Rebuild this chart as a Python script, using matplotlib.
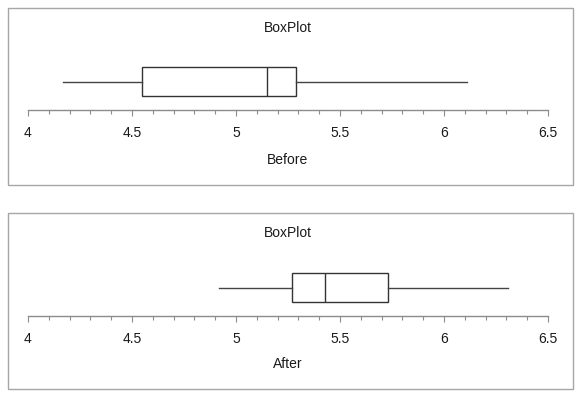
import numpy as np
import matplotlib.pyplot as plt
from matplotlib.patches import Rectangle
from matplotlib.ticker import MultipleLocator

plt.rcParams['font.family'] = ['Liberation Sans', 'DejaVu Sans']

# Five-number summaries
labels = ['Before', 'After']
whislo = [4.17, 4.92]
q1 = [4.55, 5.27]
med = [5.15, 5.43]
q3 = [5.29, 5.73]
whishi = [6.11, 6.31]
title = 'BoxPlot'

W, H = 580, 399
fig = plt.figure(figsize=(W / 100, H / 100), dpi=100)

def fx(px):
    return px / W

def fy(py):
    return 1 - py / H

# panel layout in pixels: (frame top, frame bottom, axis line y, title y, label y)
panels = [(8, 185, 110, 28, 160), (213, 389, 316, 233, 364)]

for i, (ftop, fbot, yaxis, ytitle, ylab) in enumerate(panels):
    # outer frame
    fig.add_artist(Rectangle((fx(8), fy(fbot)), fx(565), (fbot - ftop) / H,
                             transform=fig.transFigure, fill=False,
                             edgecolor='#a6a6a6', linewidth=1.0))

    ax = fig.add_axes([fx(28), fy(yaxis), fx(520), 60 / H])
    stats = [dict(whislo=whislo[i], q1=q1[i], med=med[i], q3=q3[i],
                  whishi=whishi[i], fliers=[])]
    ax.bxp(stats, positions=[0.475], widths=0.48, orientation='horizontal',
           showcaps=False, patch_artist=True,
           boxprops=dict(facecolor='white', edgecolor='#333333', linewidth=1.0),
           medianprops=dict(color='#333333', linewidth=1.0),
           whiskerprops=dict(color='#444444', linewidth=1.0))
    ax.set_xlim(4, 6.5)
    ax.set_ylim(0, 1)
    ax.set_facecolor('none')
    for s in ['top', 'left', 'right']:
        ax.spines[s].set_visible(False)
    ax.spines['bottom'].set_color('#8c8c8c')
    ax.spines['bottom'].set_linewidth(1.0)
    ax.set_yticks([])
    ax.xaxis.set_major_locator(MultipleLocator(0.5))
    ax.xaxis.set_minor_locator(MultipleLocator(0.1))
    ax.xaxis.set_major_formatter(plt.FuncFormatter(lambda v, p: f'{v:g}'))
    ax.tick_params(axis='x', which='major', length=4.5, width=0.8,
                   color='#8c8c8c', labelsize=10, labelcolor='#1a1a1a', pad=7)
    ax.tick_params(axis='x', which='minor', length=3, width=0.8, color='#8c8c8c')

    fig.text(fx(288), fy(ytitle), title, ha='center', va='center',
             fontsize=10, color='#1a1a1a')
    fig.text(fx(288), fy(ylab), labels[i], ha='center', va='center',
             fontsize=10, color='#1a1a1a')

fig.savefig('out.png', dpi=100, facecolor='white')
